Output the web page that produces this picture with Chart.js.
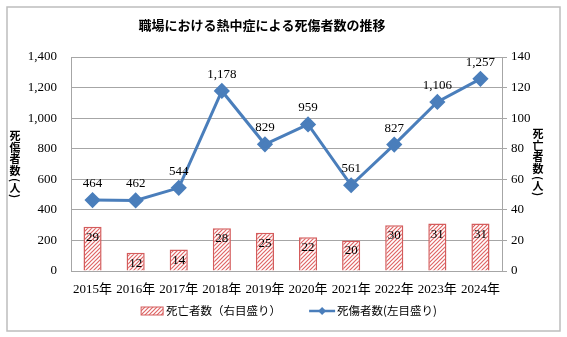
<!DOCTYPE html>
<html>
<head>
<meta charset="utf-8">
<script src="https://cdn.jsdelivr.net/npm/chart.js@4.4.1/dist/chart.umd.min.js"></script>
<style>
  html, body { margin: 0; padding: 0; background: #fff; }
</style>
</head>
<body>
<canvas id="chart" width="567" height="337"></canvas>
<script>
const years = ["2015年", "2016年", "2017年", "2018年", "2019年", "2020年", "2021年", "2022年", "2023年", "2024年"];
const injured = [464, 462, 544, 1178, 829, 959, 561, 827, 1106, 1257];
const deaths = [29, 12, 14, 28, 25, 22, 20, 30, 31, 31];
const leftMax = 1400, leftStep = 200;
const rightMax = 140, rightStep = 20;

const chartTitle = "職場における熱中症による死傷者数の推移";
const leftTitle = ["死", "傷", "者", "数"];
const rightTitle = ["死", "亡", "者", "数"];
const barLabel = "死亡者数（右目盛り）";
const lineLabel = "死傷者数(左目盛り)";

const BLUE = "#4a7ebb";
const RED = "#d45c5c";
const GRID = "#a6a6a6";
const SERIF = "'Liberation Serif', 'Noto Sans CJK JP', serif";
const JP = "'Noto Sans CJK JP', sans-serif";

// hatch pattern for the bars
function makeHatch() {
  const c = document.createElement("canvas");
  c.width = 4; c.height = 4;
  const g = c.getContext("2d");
  g.fillStyle = "#fff";
  g.fillRect(0, 0, 4, 4);
  g.strokeStyle = "#df6666";
  g.lineWidth = 1.2;
  g.beginPath();
  g.moveTo(-1, 5); g.lineTo(5, -1);
  g.moveTo(-1, 1); g.lineTo(1, -1);
  g.moveTo(3, 5); g.lineTo(5, 3);
  g.stroke();
  return g.createPattern(c, "repeat");
}
const hatch = makeHatch();

function fmt(v) { return Number(v).toLocaleString("en-US"); }

function drawVertical(ctx, chars, x, y0) {
  ctx.save();
  ctx.fillStyle = "#000";
  ctx.font = "bold 11px " + JP;
  ctx.textAlign = "center";
  ctx.textBaseline = "middle";
  let y = y0;
  chars.forEach(ch => { ctx.fillText(ch, x, y); y += 11.5; });
  // "(人)" written vertically
  const rot = (ch, yy) => {
    ctx.save();
    ctx.translate(x, yy);
    ctx.rotate(Math.PI / 2);
    ctx.fillText(ch, 0, 0);
    ctx.restore();
  };
  rot("(", y - 2);
  ctx.fillText("人", x, y + 6);
  rot(")", y + 14);
  ctx.restore();
}

const decor = {
  id: "decor",
  beforeDraw(chart) {
    const ctx = chart.ctx;
    ctx.save();
    ctx.fillStyle = "#fff";
    ctx.fillRect(0, 0, chart.width, chart.height);
    ctx.strokeStyle = "#bdbdbd";
    ctx.lineWidth = 1.5;
    ctx.strokeRect(7, 7, 553, 324);
    ctx.restore();
  },
  afterDatasetsDraw(chart) {
    const ctx = chart.ctx;
    ctx.save();
    ctx.fillStyle = "#000";
    ctx.font = "13px " + SERIF;
    ctx.textAlign = "center";
    // bar labels
    ctx.textBaseline = "top";
    chart.getDatasetMeta(1).data.forEach((el, i) => {
      ctx.fillText(String(deaths[i]), el.x, el.y + 4);
    });
    // line labels
    ctx.textBaseline = "bottom";
    chart.getDatasetMeta(0).data.forEach((el, i) => {
      ctx.fillText(fmt(injured[i]), el.x, el.y - 10);
    });
    ctx.restore();
  },
  afterDraw(chart) {
    const ctx = chart.ctx;
    ctx.save();
    // title
    ctx.fillStyle = "#000";
    ctx.font = "bold 13px " + JP;
    ctx.textAlign = "center";
    ctx.textBaseline = "middle";
    ctx.fillText(chartTitle, 262, 25);
    ctx.restore();

    drawVertical(ctx, leftTitle, 15, 136);
    drawVertical(ctx, rightTitle, 538, 134);

    // legend
    ctx.save();
    ctx.font = "11.5px " + JP;
    ctx.textBaseline = "middle";
    ctx.fillStyle = "#000";
    const ly = 311;
    const w1 = ctx.measureText(barLabel).width;
    const w2 = ctx.measureText(lineLabel).width;
    const total = 22 + 3 + w1 + 28 + 26 + 2 + w2;
    let x = 289 - total / 2;
    ctx.fillStyle = hatch;
    ctx.fillRect(x, ly - 4, 22, 8);
    ctx.strokeStyle = RED;
    ctx.lineWidth = 1;
    ctx.strokeRect(x, ly - 4, 22, 8);
    x += 25;
    ctx.fillStyle = "#000";
    ctx.fillText(barLabel, x, ly);
    x += w1 + 28;
    ctx.strokeStyle = BLUE;
    ctx.lineWidth = 2.5;
    ctx.beginPath();
    ctx.moveTo(x, ly); ctx.lineTo(x + 26, ly);
    ctx.stroke();
    ctx.fillStyle = BLUE;
    ctx.beginPath();
    ctx.moveTo(x + 13, ly - 4); ctx.lineTo(x + 17, ly); ctx.lineTo(x + 13, ly + 4); ctx.lineTo(x + 9, ly);
    ctx.closePath();
    ctx.fill();
    x += 28;
    ctx.fillStyle = "#000";
    ctx.fillText(lineLabel, x, ly);
    ctx.restore();
  }
};

new Chart(document.getElementById("chart"), {
  data: {
    labels: years,
    datasets: [
      {
        type: "line",
        label: lineLabel,
        data: injured,
        yAxisID: "yL",
        borderColor: BLUE,
        backgroundColor: BLUE,
        borderWidth: 3,
        pointStyle: "rectRot",
        pointRadius: 6,
        pointBackgroundColor: BLUE,
        pointBorderColor: BLUE,
        tension: 0,
        order: 0
      },
      {
        type: "bar",
        label: barLabel,
        data: deaths,
        yAxisID: "yR",
        backgroundColor: hatch,
        borderColor: RED,
        borderWidth: 1.5,
        categoryPercentage: 1,
        barPercentage: 0.42,
        order: 1
      }
    ]
  },
  options: {
    responsive: false,
    animation: false,
    layout: { padding: { top: 57, left: 0, right: 0, bottom: 0 } },
    plugins: {
      legend: { display: false },
      title: { display: false },
      tooltip: { enabled: false }
    },
    scales: {
      x: {
        offset: true,
        grid: { display: false },
        border: { display: true, color: GRID, width: 1 },
        ticks: { color: "#000", font: { family: SERIF, size: 13 }, padding: 3, maxRotation: 0 },
        afterFit: s => { s.height = 66; }
      },
      yL: {
        position: "left",
        min: 0, max: leftMax,
        ticks: { stepSize: leftStep, color: "#000", font: { family: SERIF, size: 13 }, padding: 14, callback: v => fmt(v) },
        grid: { color: GRID, lineWidth: 1, drawTicks: false },
        border: { display: true, color: GRID, width: 1 },
        afterFit: s => { s.width = 71; }
      },
      yR: {
        position: "right",
        min: 0, max: rightMax,
        ticks: { stepSize: rightStep, color: "#000", font: { family: SERIF, size: 13 }, padding: 4 },
        grid: { drawOnChartArea: false, color: GRID, tickLength: 5 },
        border: { display: true, color: GRID, width: 1 },
        afterFit: s => { s.width = 65; }
      }
    }
  },
  plugins: [decor]
});
</script>
</body>
</html>
